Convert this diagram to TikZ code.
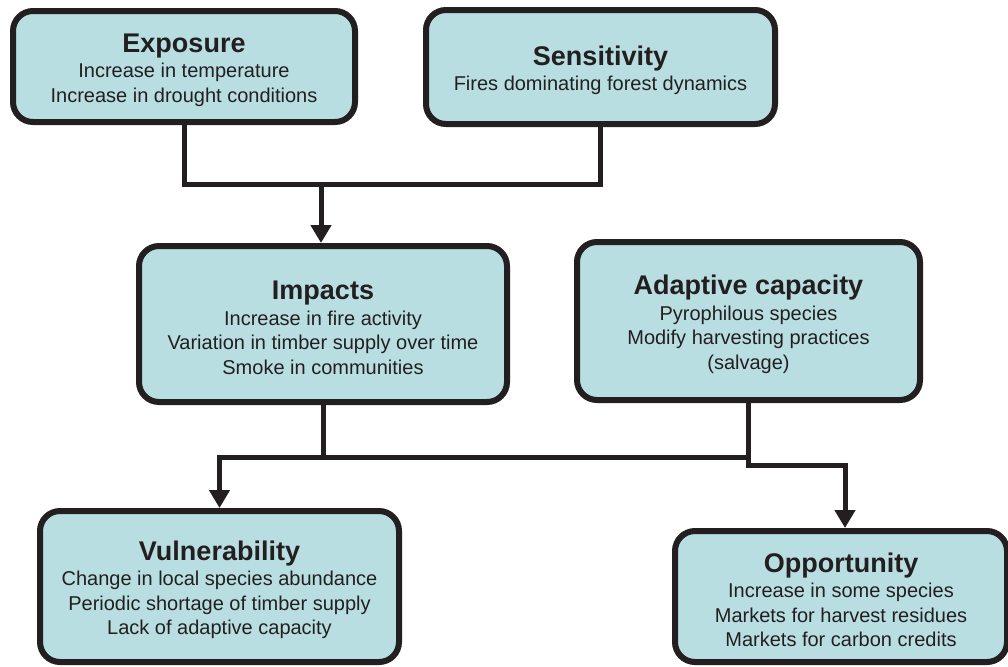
\documentclass[tikz,border=0pt]{standalone}
\usepackage{fontspec}
\setmainfont{Liberation Sans}
\usetikzlibrary{arrows.meta}
\definecolor{boxfill}{HTML}{B8DEE2}
\definecolor{ink}{HTML}{231F20}
\newcommand{\ttl}[1]{{\fontsize{13.5}{14}\selectfont\bfseries\rule{0pt}{13pt}#1}}

\begin{document}
\begin{tikzpicture}[x=0.5pt, y=-0.5pt, >={Triangle[width=10pt,length=9pt]},
    box/.style={draw=ink, fill=boxfill, line width=3pt, rounded corners=10pt,
        align=center, text=ink, font=\fontsize{10}{12.25}\selectfont},
    link/.style={draw=ink, line width=2.5pt}]
    \useasboundingbox (0,0) rectangle (1008,666);

    \node[box, minimum width=171pt, minimum height=55.5pt](E) at (184,66.5)
        {\ttl{Exposure}\\[0.5pt] Increase in temperature\\ Increase in drought conditions};
    \node[box, minimum width=174.5pt, minimum height=57pt](S) at (600.5,67)
        {\ttl{Sensitivity}\\[0.5pt] Fires dominating forest dynamics};
    \node[box, minimum width=184pt, minimum height=78pt](I) at (323,324)
        {\ttl{Impacts}\\[0.5pt] Increase in fire activity\\ Variation in timber supply over time\\ Smoke in communities};
    \node[box, minimum width=171.5pt, minimum height=79pt](A) at (748.5,321)
        {\ttl{Adaptive capacity}\\[0.5pt] Pyrophilous species\\ Modify harvesting practices\\ (salvage)};
    \node[box, minimum width=179.5pt, minimum height=75.5pt](V) at (219.5,586.5)
        {\ttl{Vulnerability}\\[0.5pt] Change in local species abundance\\ Periodic shortage of timber supply\\ Lack of adaptive capacity};
    \node[box, minimum width=166pt, minimum height=65.5pt](O) at (841,596.5)
        {\ttl{Opportunity}\\[0.5pt] Increase in some species\\ Markets for harvest residues\\ Markets for carbon credits};

    \coordinate (j1) at (321,184);
    \coordinate (j2) at (748.5,457);
    \coordinate (j3) at (845,465);

    \draw[link] (E.south) |- (j1) -| (S.south);
    \draw[link, ->] (j1) -- (I.north -| j1);
    \draw[link] (I.south) -- (I.south |- j2);
    \draw[link, ->] (j2) -| (V.north);
    \draw[link, ->] (A.south) |- (j3) -- (j3 |- O.north);
\end{tikzpicture}
\end{document}
